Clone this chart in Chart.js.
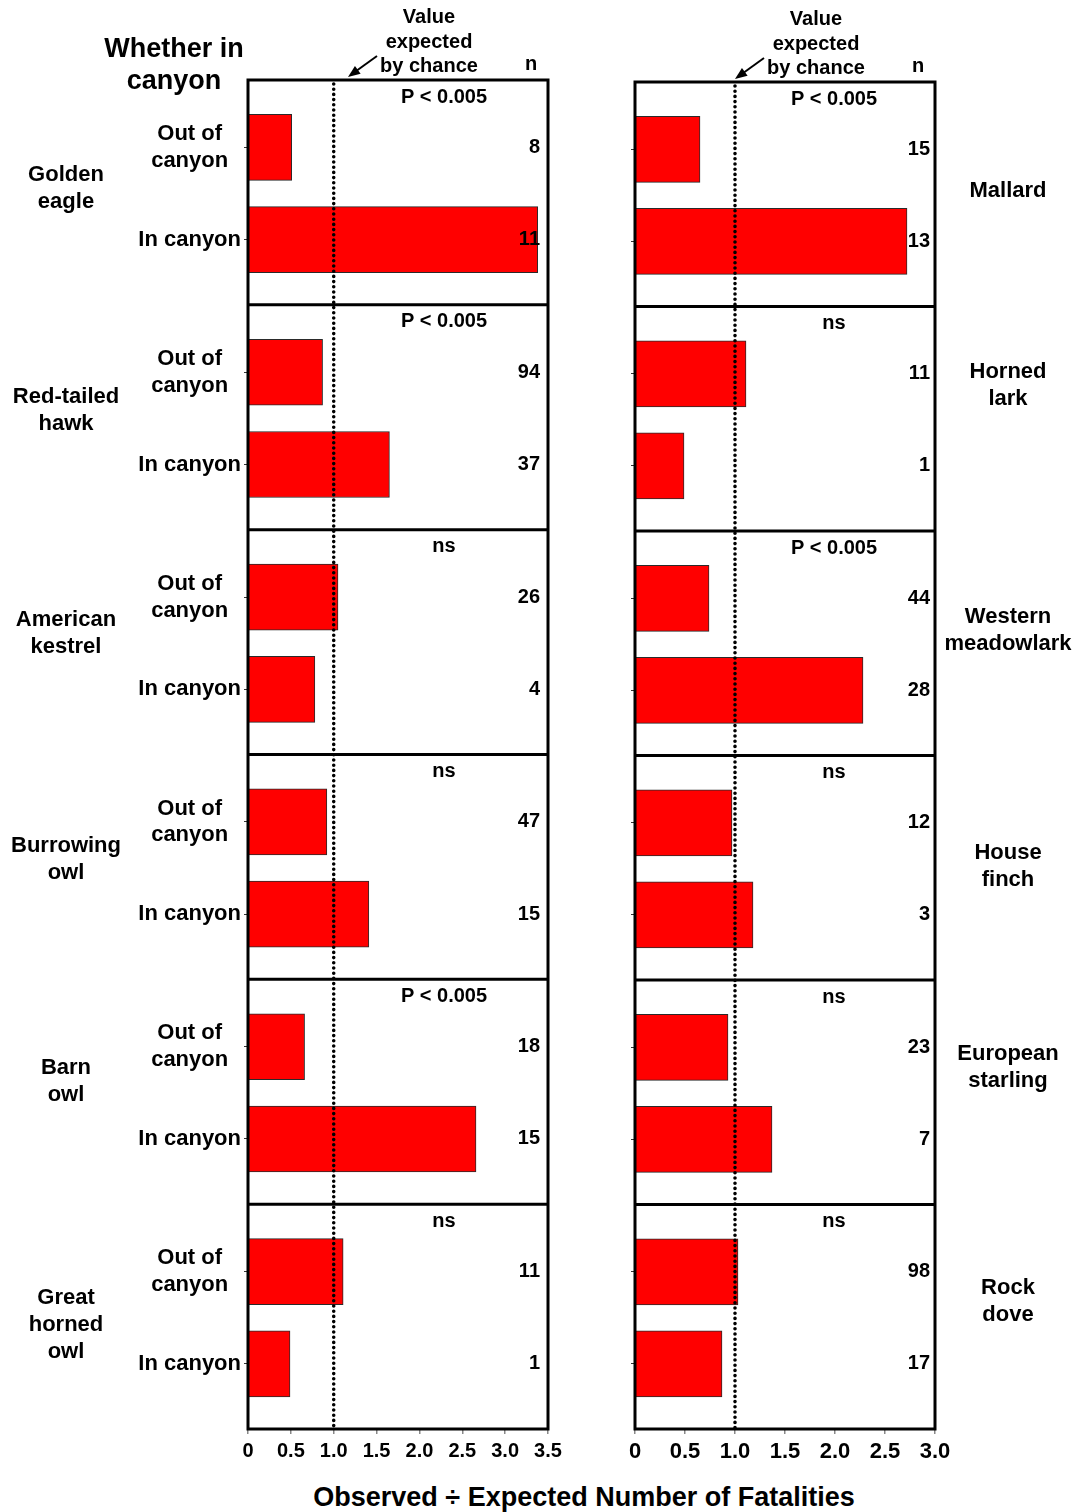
<!DOCTYPE html>
<html>
<head>
<meta charset="utf-8">
<script src="https://cdn.jsdelivr.net/npm/chart.js@4.4.1/dist/chart.umd.min.js"></script>
<style>
  body { margin: 0; background: #fff; width: 1080px; height: 1512px; position: relative; overflow: hidden;
         font-family: "Liberation Sans", Arial, sans-serif; }
  .chartBox { position: absolute; top: 0; height: 1469px; }
  #xTitle { position: absolute; left: 184px; width: 800px; top: 1482px; line-height: 30px;
            text-align: center; font-size: 27px; font-weight: bold; color: #000; }
</style>
</head>
<body>
<div class="chartBox" style="left:0;width:600px"><canvas id="leftChart"></canvas></div>
<div class="chartBox" style="left:560px;width:520px"><canvas id="rightChart"></canvas></div>
<div id="xTitle">Observed ÷ Expected Number of Fatalities</div>

<script>
// left column
const leftSpecies = [['Golden', 'eagle'], ['Red-tailed', 'hawk'], ['American', 'kestrel'],
                     ['Burrowing', 'owl'], ['Barn', 'owl'], ['Great', 'horned', 'owl']];
const leftOut = [0.51, 0.87, 1.05, 0.92, 0.66, 1.11];
const leftIn = [3.38, 1.65, 0.78, 1.41, 2.66, 0.49];
const leftNOut = [8, 94, 26, 47, 18, 11];
const leftNIn = [11, 37, 4, 15, 15, 1];
const leftP = ['P < 0.005', 'P < 0.005', 'ns', 'ns', 'P < 0.005', 'ns'];

// right column
const rightSpecies = [['Mallard'], ['Horned', 'lark'], ['Western', 'meadowlark'],
                      ['House', 'finch'], ['European', 'starling'], ['Rock', 'dove']];
const rightOut = [0.65, 1.11, 0.74, 0.97, 0.93, 1.03];
const rightIn = [2.72, 0.49, 2.28, 1.18, 1.37, 0.87];
const rightNOut = [15, 11, 44, 12, 23, 98];
const rightNIn = [13, 1, 28, 3, 7, 17];
const rightP = ['P < 0.005', 'ns', 'P < 0.005', 'ns', 'ns', 'ns'];

const rowLabels = [['Out of', 'canyon'], 'In canyon'];
const leftTicks = [0, 0.5, 1, 1.5, 2, 2.5, 3, 3.5];
const rightTicks = [0, 0.5, 1, 1.5, 2, 2.5, 3];

// where the two bars sit inside one panel (fraction of panel height)
const OUT_POS = 0.3;
const IN_POS = 0.71;
const FONT = '"Liberation Sans", Arial, sans-serif';

Chart.defaults.font.family = FONT;
Chart.defaults.font.weight = 'bold';
Chart.defaults.color = '#000';

function barPoints(outVals, inVals) {
  const pts = [];
  outVals.forEach(function(v, i) {
    pts.push({x: v, y: i + OUT_POS});
    pts.push({x: inVals[i], y: i + IN_POS});
  });
  return pts;
}

const panelDecor = {
  id: 'panelDecor',
  afterDatasetsDraw(chart, args, o) {
    const ctx = chart.ctx;
    const a = chart.chartArea;
    const xs = chart.scales.x, ys = chart.scales.y;
    ctx.save();

    // expected-by-chance line
    const x1 = xs.getPixelForValue(1);
    ctx.strokeStyle = '#000';
    ctx.lineWidth = 3.6;
    ctx.lineCap = 'round';
    ctx.setLineDash([0, 5.2]);
    ctx.beginPath();
    ctx.moveTo(x1, a.top + 4);
    ctx.lineTo(x1, a.bottom);
    ctx.stroke();
    ctx.setLineDash([]);

    // panel frames
    ctx.lineCap = 'butt';
    ctx.lineWidth = 3;
    ctx.strokeRect(a.left, a.top, a.right - a.left, a.bottom - a.top);
    for (let i = 1; i < o.pLabels.length; i++) {
      const yy = ys.getPixelForValue(i);
      ctx.beginPath();
      ctx.moveTo(a.left, yy);
      ctx.lineTo(a.right, yy);
      ctx.stroke();
    }

    ctx.fillStyle = '#000';
    ctx.textBaseline = 'middle';

    // P values and n
    ctx.font = 'bold 20px ' + FONT;
    ctx.textAlign = 'center';
    o.pLabels.forEach(function(t, i) {
      ctx.fillText(t, a.left + o.pX, ys.getPixelForValue(i) + 17);
    });
    ctx.textAlign = 'right';
    o.nOut.forEach(function(n, i) {
      ctx.fillText(String(n), a.right - o.nInset, ys.getPixelForValue(i + OUT_POS));
    });
    o.nIn.forEach(function(n, i) {
      ctx.fillText(String(n), a.right - o.nInset, ys.getPixelForValue(i + IN_POS));
    });

    // header above the frame
    ctx.textAlign = 'center';
    ctx.fillText('Value', a.left + 181, a.top - 63);
    ctx.fillText('expected', a.left + 181, a.top - 38);
    ctx.fillText('by chance', a.left + 181, a.top - 14);
    ctx.fillText('n', a.right - 17, a.top - 16);

    // arrow to the dotted line
    const ax0 = a.left + 129, ay0 = a.top - 24;
    const ax1 = a.left + 100, ay1 = a.top - 3;
    const ang = Math.atan2(ay1 - ay0, ax1 - ax0);
    ctx.lineWidth = 2;
    ctx.beginPath();
    ctx.moveTo(ax0, ay0);
    ctx.lineTo(ax1 - 8 * Math.cos(ang), ay1 - 8 * Math.sin(ang));
    ctx.stroke();
    ctx.beginPath();
    ctx.moveTo(ax1, ay1);
    ctx.lineTo(ax1 - 13 * Math.cos(ang - 0.38), ay1 - 13 * Math.sin(ang - 0.38));
    ctx.lineTo(ax1 - 13 * Math.cos(ang + 0.38), ay1 - 13 * Math.sin(ang + 0.38));
    ctx.closePath();
    ctx.fill();

    // species names
    ctx.font = 'bold 22px ' + FONT;
    o.species.forEach(function(lines, i) {
      const cy = ys.getPixelForValue(i + 0.5) + o.speciesShift[i];
      lines.forEach(function(ln, k) {
        ctx.fillText(ln, o.speciesX, cy + (k - (lines.length - 1) / 2) * 27);
      });
    });

    if (o.heading) {
      ctx.font = 'bold 27px ' + FONT;
      ctx.fillText('Whether in', 174, 50);
      ctx.fillText('canyon', 174, 82);
    }
    ctx.restore();
  }
};

function createChart(el, cfg) {
  return new Chart(el, {
    type: 'bar',
    data: {
      datasets: [{
        data: barPoints(cfg.outVals, cfg.inVals),
        backgroundColor: '#ff0000',
        borderColor: '#2a2a2a',
        borderWidth: 1,
        barThickness: 66
      }]
    },
    options: {
      indexAxis: 'y',
      responsive: true,
      maintainAspectRatio: false,
      animation: false,
      layout: {padding: cfg.padding},
      scales: {
        x: {
          type: 'linear',
          min: 0,
          max: cfg.xTicks[cfg.xTicks.length - 1],
          afterBuildTicks: function(s) { s.ticks = cfg.xTicks.map(function(v) { return {value: v}; }); },
          afterFit: function(s) { s.height = 40; },
          border: {display: false},
          grid: {drawOnChartArea: false, offset: false, tickLength: 5, color: '#888', lineWidth: 1.5},
          ticks: {
            padding: 5,
            font: {size: cfg.xFont, weight: 'bold'},
            callback: function(v) { return v === 0 ? '0' : v.toFixed(1); }
          }
        },
        y: {
          type: 'linear',
          min: 0,
          max: 6,
          offset: false,
          reverse: true,
          afterBuildTicks: function(s) {
            const t = [];
            for (let i = 0; i < 6; i++) {
              t.push({value: i + OUT_POS});
              t.push({value: i + IN_POS});
            }
            s.ticks = t;
          },
          afterFit: function(s) { s.width = cfg.yWidth; },
          border: {display: false},
          grid: {drawOnChartArea: false, offset: false, tickLength: 4, color: '#333'},
          ticks: {
            autoSkip: false,
            padding: 3,
            crossAlign: 'center',
            font: {size: 22, weight: 'bold', lineHeight: 1.22},
            callback: function(v) {
              if (!cfg.rowText) return '';
              return (v - Math.floor(v)) < 0.5 ? rowLabels[0] : rowLabels[1];
            }
          }
        }
      },
      plugins: {
        legend: {display: false},
        tooltip: {enabled: false},
        panelDecor: cfg.decor
      }
    },
    plugins: [panelDecor]
  });
}

createChart(document.getElementById('leftChart'), {
  outVals: leftOut, inVals: leftIn, xTicks: leftTicks, xFont: 20,
  padding: {top: 80, right: 52, bottom: 0, left: 0}, yWidth: 248, rowText: true,
  decor: {
    pLabels: leftP, nOut: leftNOut, nIn: leftNIn, species: leftSpecies,
    pX: 196, nInset: 8, speciesX: 66, speciesShift: [-4, -7, -9, -7, -10, 8], heading: true
  }
});

createChart(document.getElementById('rightChart'), {
  outVals: rightOut, inVals: rightIn, xTicks: rightTicks, xFont: 22,
  padding: {top: 82, right: 145, bottom: 0, left: 0}, yWidth: 75, rowText: false,
  decor: {
    pLabels: rightP, nOut: rightNOut, nIn: rightNIn, species: rightSpecies,
    pX: 199, nInset: 5, speciesX: 448, speciesShift: [-3, -33, -13, -1, -25, -15], heading: false
  }
});
</script>
</body>
</html>
